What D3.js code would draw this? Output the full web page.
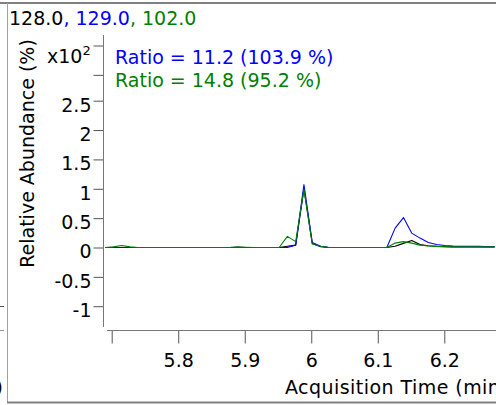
<!DOCTYPE html>
<html>
<head>
<meta charset="utf-8">
<script src="https://cdn.jsdelivr.net/npm/d3@7"></script>
<style>
  html, body { margin: 0; padding: 0; background: #fff; }
  svg { display: block; font-family: "DejaVu Sans", sans-serif; }
</style>
</head>
<body>
<script>
// ---- data ----
const times = [5.6900, 5.7025, 5.7149, 5.7274, 5.7398, 5.7523, 5.7648, 5.7772, 5.7897, 5.8021,
  5.8146, 5.8271, 5.8395, 5.8520, 5.8644, 5.8769, 5.8894, 5.9018, 5.9143, 5.9267,
  5.9392, 5.9517, 5.9641, 5.9766, 5.9890, 6.0015, 6.0140, 6.0264, 6.0389, 6.0513,
  6.0638, 6.0763, 6.0887, 6.1012, 6.1136, 6.1261, 6.1386, 6.1510, 6.1635, 6.1759,
  6.1884, 6.2009, 6.2133, 6.2258, 6.2382, 6.2507, 6.2632, 6.2756];
const ion128 = [0, 0, 0, 0, 0, 0, 0, 0, 0, 0,
  0, 0, 0, 0, 0, 0, 0, 0, 0, 0,
  0, 0, 0.02, 0.04, 1.00, 0.07, 0.015, 0, 0, 0,
  0, 0, 0, 0, 0, 0.02, 0.07, 0.12, 0.05, 0.03,
  0.02, 0.015, 0.01, 0.01, 0.01, 0.01, 0.01, 0.01];
const ion129 = [0, 0, 0, 0, 0, 0, 0, 0, 0, 0,
  0, 0, 0, 0, 0, 0, 0.005, 0, 0, 0,
  0, 0, 0, 0.04, 1.07, 0.085, 0.02, 0, 0, 0,
  0, 0, 0, 0, 0, 0.33, 0.51, 0.245, 0.16, 0.085,
  0.05, 0.035, 0.025, 0.02, 0.02, 0.02, 0.015, 0.015];
const ion102 = [0, 0.01, 0.035, 0.01, 0, 0, 0, 0, 0, 0,
  0, 0, 0, 0, 0, 0, 0.01, 0.005, 0, 0,
  0, 0, 0.19, 0.10, 0.99, 0.06, 0.02, 0, 0, 0,
  0, 0, 0, 0, 0, 0.075, 0.10, 0.075, 0.04, 0.025,
  0.02, 0.015, 0.01, 0.01, 0.01, 0.01, 0.01, 0.01];
const xTicks = [5.7, 5.8, 5.9, 6.0, 6.1, 6.2];
const xTickLabels = ["", "5.8", "5.9", "6", "6.1", "6.2"];
const yTicks = [-1, -0.5, 0, 0.5, 1, 1.5, 2, 2.5, 2.94, 3.44];
const yTickLabels = ["-1", "-0.5", "0", "0.5", "1", "1.5", "2", "2.5", "", ""];
const titleParts = [["128.0", "#000000"], [", 129.0", "#0000ff"], [", 102.0", "#008000"]];
const legendLines = [["Ratio = 11.2 (103.9 %)", "#0000ff"], ["Ratio = 14.8 (95.2 %)", "#008000"]];
const series = [[ion128, "#000000"], [ion129, "#0000ff"], [ion102, "#008000"]];

// ---- drawing ----
const W = 496, H = 405, FS = 19;
const svg = d3.select("body").append("svg").attr("width", W).attr("height", H);

const x = d3.scaleLinear().domain([5.7, 6.2]).range([111.7, 444.3]);
const y = d3.scaleLinear().domain([0, 2.5]).range([247.5, 100.7]);

// panel frame
svg.append("line").attr("x1", 0).attr("x2", W).attr("y1", 3).attr("y2", 3)
  .attr("stroke", "#808080").attr("stroke-width", 2);
svg.append("line").attr("x1", 7.5).attr("x2", 7.5).attr("y1", 3).attr("y2", 403)
  .attr("stroke", "#a0a0a0").attr("stroke-width", 1);
svg.append("line").attr("x1", 7).attr("x2", W).attr("y1", 402.5).attr("y2", 402.5)
  .attr("stroke", "#808080").attr("stroke-width", 2);
// remnants of neighbouring panel
svg.append("line").attr("x1", 0).attr("x2", 4).attr("y1", 306.5).attr("y2", 306.5)
  .attr("stroke", "#555").attr("stroke-width", 1);
svg.append("line").attr("x1", 0).attr("x2", 4).attr("y1", 330.5).attr("y2", 330.5)
  .attr("stroke", "#999").attr("stroke-width", 1);
svg.append("text").attr("x", 3).attr("y", 394).attr("text-anchor", "end")
  .attr("font-size", FS).text(")");

// title
const title = svg.append("text").attr("x", 9).attr("y", 25).attr("font-size", FS);
titleParts.forEach(([t, c]) => title.append("tspan").attr("fill", c).text(t));

// y axis
const yAxis = d3.axisLeft(y).tickValues(yTicks).tickSize(10).tickPadding(2)
  .tickFormat((d, i) => yTickLabels[i]);
const gy = svg.append("g").attr("transform", "translate(103.5,0)").call(yAxis);
gy.select(".domain").remove();
gy.selectAll(".tick line").attr("stroke", "#555");
gy.selectAll(".tick text").attr("font-size", FS).attr("font-family", "DejaVu Sans")
  .attr("fill", "#000").attr("dy", "0.55em");
svg.append("line").attr("x1", 103.5).attr("x2", 103.5).attr("y1", 35).attr("y2", 327)
  .attr("stroke", "#777").attr("stroke-width", 1);

// x axis
const xAxis = d3.axisBottom(x).tickValues(xTicks).tickSize(13).tickPadding(10)
  .tickFormat((d, i) => xTickLabels[i]);
const gx = svg.append("g").attr("transform", "translate(0,330.5)").call(xAxis);
gx.select(".domain").remove();
gx.selectAll(".tick line").attr("stroke", "#555");
gx.selectAll(".tick text").attr("font-size", FS).attr("font-family", "DejaVu Sans").attr("fill", "#000");
svg.append("line").attr("x1", 107).attr("x2", W).attr("y1", 330.5).attr("y2", 330.5)
  .attr("stroke", "#777").attr("stroke-width", 1);

// axis titles
svg.append("text").attr("transform", "translate(33.5,153.5) rotate(-90)")
  .attr("text-anchor", "middle").attr("font-size", FS).text("Relative Abundance (%)");
svg.append("text").attr("x", 285).attr("y", 394).attr("font-size", FS)
  .attr("letter-spacing", 0.45).text("Acquisition Time (min)");

// multiplier
const mult = svg.append("text").attr("x", 47).attr("y", 63).attr("font-size", FS);
mult.append("tspan").text("x10");
mult.append("tspan").attr("font-size", 13).attr("dy", -8).text("2");

// legend
legendLines.forEach(([t, c], i) => {
  svg.append("text").attr("x", 115).attr("y", 64 + i * 23).attr("font-size", FS)
    .attr("fill", c).text(t);
});

// traces
const line = d3.line().x((d, i) => x(times[i])).y(d => y(d));
series.forEach(([vals, c]) => {
  svg.append("path").datum(vals).attr("d", line).attr("fill", "none")
    .attr("stroke", c).attr("stroke-width", 1.1).attr("stroke-linejoin", "round");
});
</script>
</body>
</html>
